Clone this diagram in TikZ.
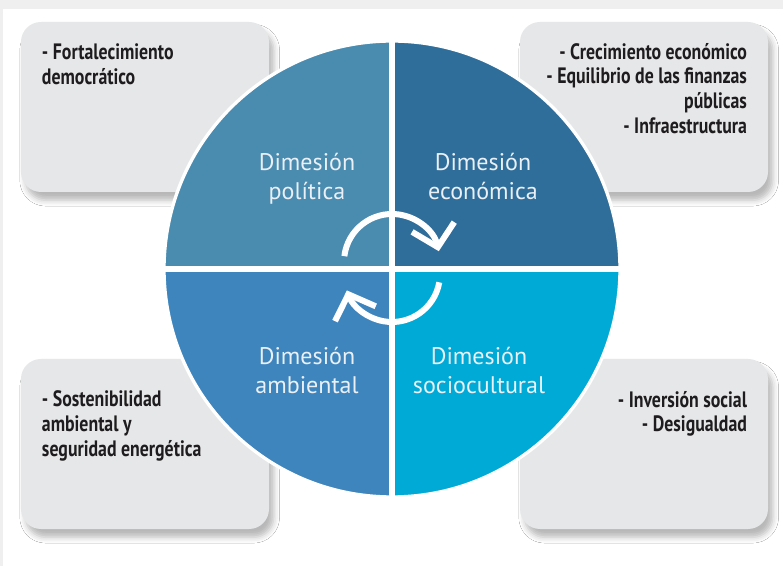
\documentclass[tikz,border=0pt]{standalone}
\usepackage{fontspec}
\usepackage{tikz}
\usetikzlibrary{arrows.meta,shadows.blur}

\newfontfamily\labelfont{PT Sans}
\newfontfamily\itemfont{PT Sans}[FakeStretch=0.8]

\definecolor{polcol}{RGB}{74,139,176}
\definecolor{ecocol}{RGB}{47,110,154}
\definecolor{ambcol}{RGB}{62,133,190}
\definecolor{soccol}{RGB}{0,170,214}
\definecolor{boxcol}{RGB}{230,231,232}
\definecolor{labcol}{RGB}{234,240,245}
\definecolor{inkcol}{RGB}{30,28,30}
\definecolor{edgecol}{RGB}{239,239,239}

\tikzset{
  infobox/.style={fill=boxcol, rounded corners=0.6cm, minimum width=7.44cm,
    minimum height=5.1cm, inner sep=0pt,
    blur shadow={shadow xshift=4pt, shadow yshift=-7pt, shadow blur radius=5pt, shadow opacity=28}},
  itemtext/.style={inner sep=0pt, text=inkcol,
    font=\itemfont\bfseries\fontsize{19pt}{21.3pt}\selectfont},
  dimlabel/.style={inner sep=0pt, anchor=north, align=center, text=labcol,
    font=\labelfont\fontsize{20.5pt}{24.7pt}\selectfont},
  cyclearrow/.style={draw=white, line width=0.18cm, line cap=butt,
    -{Straight Barb[length=0.62cm, width=1.3cm, line width=0.18cm]}}
}

\begin{document}
\begin{tikzpicture}[x=0.03cm, y=0.03cm]
\useasboundingbox (0,0) rectangle (783,566);
\fill[white] (0,0) rectangle (783,566);
\fill[edgecol] (0,557) rectangle (783,566);
\fill[edgecol] (0,0) rectangle (3,566);

% boxes
\node[infobox] (polbox) at (145,459) {};
\node[infobox] (ecobox) at (644,459) {};
\node[infobox] (ambbox) at (145,122) {};
\node[infobox] (socbox) at (644,122) {};

\node[itemtext, anchor=north west, align=left] (poltext) at ([shift={(21,-22)}]polbox.north west)
  {- Fortalecimiento\\democrático};
\node[itemtext, anchor=north east, align=right] (ecotext) at ([shift={(-21,-21)}]ecobox.north east)
  {- Crecimiento económico\\- Equilibrio de las finanzas\\públicas\\- Infraestructura};
\node[itemtext, anchor=north west, align=left] (ambtext) at ([shift={(21,-32)}]ambbox.north west)
  {- Sostenibilidad\\ambiental y\\seguridad energética};
\node[itemtext, anchor=north east, align=right] (soctext) at ([shift={(-21,-32)}]socbox.north east)
  {- Inversión social\\- Desigualdad};

% circle
\coordinate (c) at (392,297);
\fill[polcol] (c) -- +(90:228) arc[start angle=90, end angle=180, radius=228] -- cycle;
\fill[ecocol] (c) -- +(0:228) arc[start angle=0, end angle=90, radius=228] -- cycle;
\fill[ambcol] (c) -- +(180:228) arc[start angle=180, end angle=270, radius=228] -- cycle;
\fill[soccol] (c) -- +(270:228) arc[start angle=270, end angle=360, radius=228] -- cycle;
\draw[white, line width=0.16cm] (c) +(0,-228) -- +(0,228);
\draw[white, line width=0.16cm] (c) +(-228,0) -- +(228,0);
\draw[white, line width=0.1cm] (c) circle[radius=228];

\node[dimlabel] (pollabel) at (307,413) {Dimesión\\política};
\node[dimlabel] (ecolabel) at (483,413) {Dimesión\\económica};
\node[dimlabel] (amblabel) at (307,219) {Dimesión\\ambiental};
\node[dimlabel] (soclabel) at (479,219) {Dimesión\\sociocultural};

% cycle arrows
\coordinate (ctop) at (392,304);
\coordinate (cbot) at (392,292);
\draw[cyclearrow] ([shift={(173:48)}]ctop) arc[start angle=173, end angle=13, radius=48];
\draw[cyclearrow] ([shift={(-10:48)}]cbot) arc[start angle=-10, end angle=-160, radius=48];
\end{tikzpicture}
\end{document}
